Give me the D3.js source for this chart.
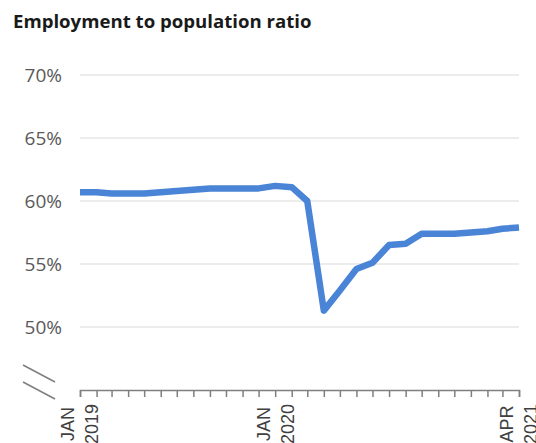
<!DOCTYPE html>
<html>
  <head>
    <meta charset="UTF-8">
    <title>Employment to population ratio</title>
    <script src="https://d3js.org/d3.v7.min.js"></script>
    <style>
      body { margin: 0; background: #fff; }
    </style>
  </head>
  <body>
    <svg width="536" height="443"></svg>

    <script>

// monthly, Jan 2019 .. Apr 2021
const months = d3.range(28).map(i => new Date(2019, i, 1));
const ratio = [
  60.7, 60.7, 60.6, 60.6, 60.6, 60.7, 60.8, 60.9, 61.0, 61.0, 61.0, 61.0,
  61.2, 61.1, 60.0, 51.3, 52.9, 54.6, 55.1, 56.5, 56.6, 57.4, 57.4, 57.4,
  57.5, 57.6, 57.8, 57.9
];
const yTicks = [50, 55, 60, 65, 70];
const xLabels = [
  { date: new Date(2019, 0, 1), lines: ["JAN", "2019"] },
  { date: new Date(2020, 0, 1), lines: ["JAN", "2020"] },
  { date: new Date(2021, 3, 1), lines: ["APR", "2021"] }
];

const data = months.map((d, i) => ({ date: d, value: ratio[i] }));

const svg = d3.select("svg");

const x = d3.scaleTime()
  .domain([months[0], months[months.length - 1]])
  .range([80, 519]);

const y = d3.scaleLinear()
  .domain([45, 70])
  .range([390, 75]);

// title
svg.append("text")
  .attr("x", 13)
  .attr("y", 28)
  .attr("font-family", "'Open Sans', sans-serif")
  .attr("font-weight", "bold")
  .attr("font-size", 18.6)
  .attr("fill", "#1a1a1a")
  .text("Employment to population ratio");

// gridlines
svg.append("g")
  .selectAll("line")
  .data(yTicks)
  .join("line")
  .attr("x1", 80)
  .attr("x2", 519)
  .attr("y1", d => y(d))
  .attr("y2", d => y(d))
  .attr("stroke", "#d9d9d9")
  .attr("stroke-width", 1);

// y labels
svg.append("g")
  .selectAll("text")
  .data(yTicks)
  .join("text")
  .attr("x", 62)
  .attr("y", d => y(d))
  .attr("dy", "0.36em")
  .attr("text-anchor", "end")
  .attr("font-family", "'Open Sans', sans-serif")
  .attr("font-size", 19)
  .attr("fill", "#595959")
  .text(d => d + "%");

// axis break marks
const brk = svg.append("g").attr("stroke", "#7f7f7f").attr("stroke-width", 1.5);
[0, 17].forEach(off => {
  brk.append("line")
    .attr("x1", 23).attr("y1", 365 + off)
    .attr("x2", 55).attr("y2", 382 + off);
});

// x axis
const xAxis = d3.axisBottom(x)
  .tickValues(months)
  .tickSize(7)
  .tickFormat("");

const gx = svg.append("g")
  .attr("transform", "translate(0,390)")
  .call(xAxis);
gx.select(".domain").attr("stroke", "#7f7f7f").attr("stroke-width", 1.5);
gx.selectAll(".tick line").attr("stroke", "#7f7f7f").attr("stroke-width", 1.5);

// x labels, rotated two-line
const xl = svg.append("g")
  .selectAll("g")
  .data(xLabels)
  .join("g")
  .attr("transform", d => `translate(${x(d.date)},424) rotate(-90)`);

xl.selectAll("text")
  .data(d => d.lines)
  .join("text")
  .attr("x", 0)
  .attr("y", (d, i) => i === 0 ? -12 : 12)
  .attr("dy", "0.36em")
  .attr("text-anchor", "middle")
  .attr("font-family", "'Liberation Sans', Arial, sans-serif")
  .attr("font-size", 18)
  .attr("fill", "#404040")
  .text(d => d);

// line
const line = d3.line()
  .x(d => x(d.date))
  .y(d => y(d.value));

svg.append("path")
  .datum(data)
  .attr("fill", "none")
  .attr("stroke", "#4a84d6")
  .attr("stroke-width", 6.5)
  .attr("stroke-linejoin", "round")
  .attr("d", line);

    </script>
  </body>
</html>
